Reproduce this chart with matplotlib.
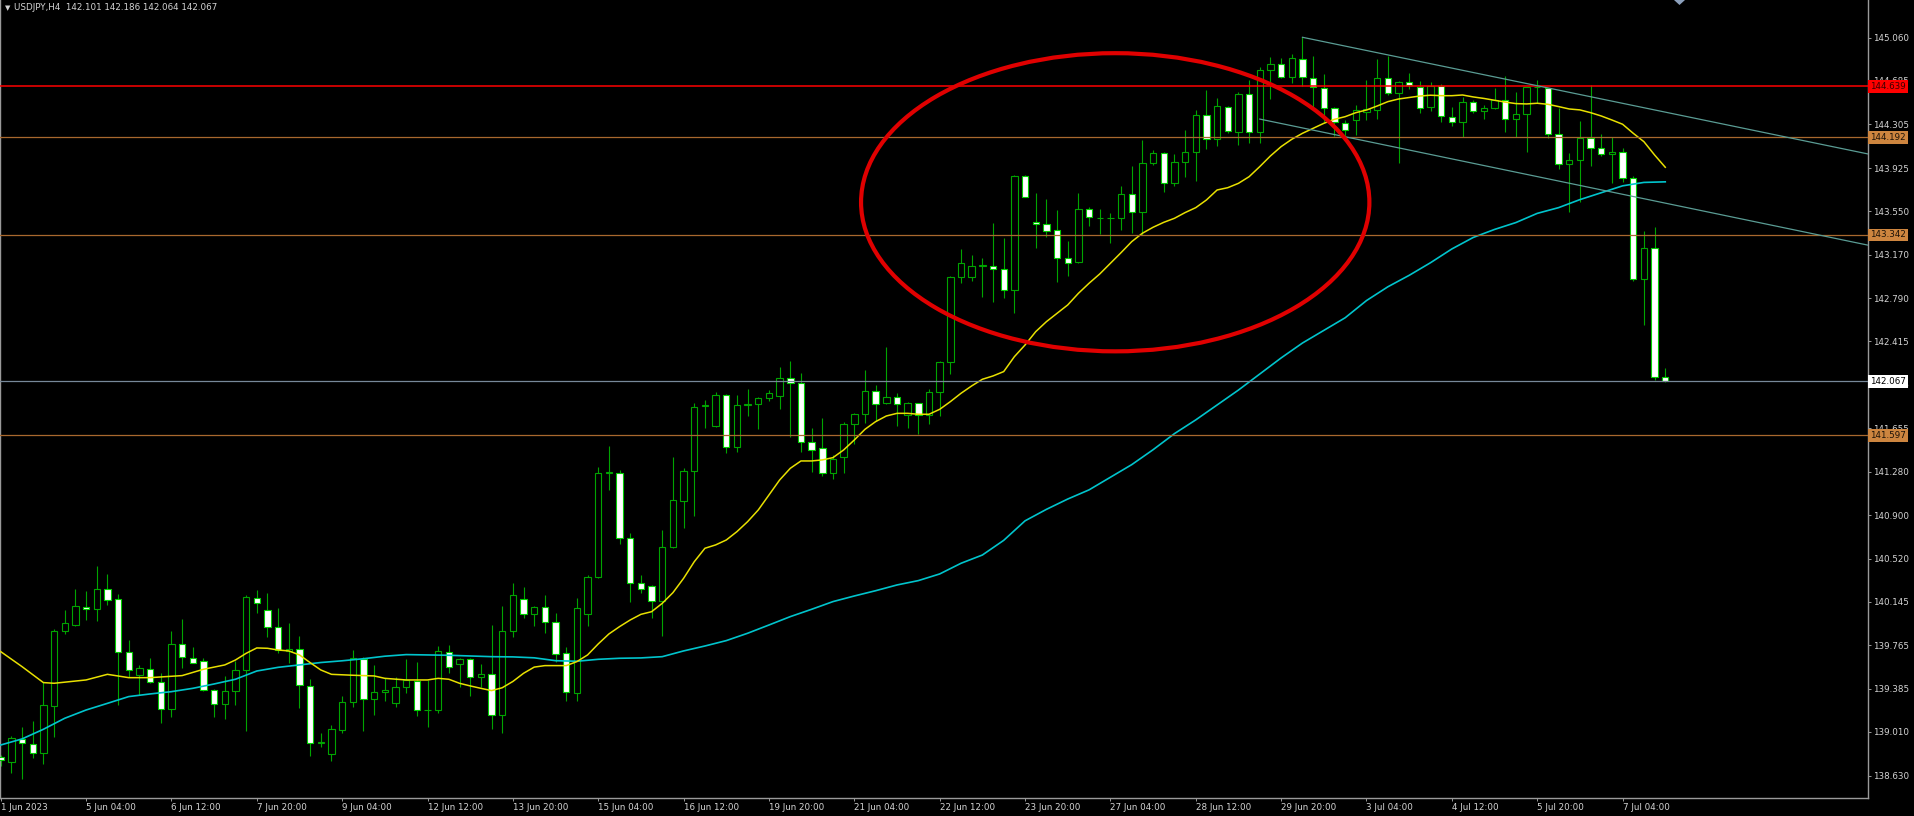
import matplotlib
matplotlib.use('Agg')
import matplotlib.pyplot as plt
import matplotlib.transforms as mtransforms
from matplotlib.patches import Ellipse, Polygon
import numpy as np

# USDJPY H4, 1 Jun 20:00 -> 7 Jul 20:00 (157 bars)
opens = [
    138.789, 138.751, 138.949, 138.908, 138.829, 139.239, 139.893, 139.939, 140.102, 140.079,
    140.259, 140.166, 139.707, 139.507, 139.562, 139.443, 139.207, 139.774, 139.658, 139.631,
    139.376, 139.254, 139.364, 139.550, 140.175, 140.070, 139.925, 139.719, 139.733, 139.414,
    138.917, 138.818, 139.024, 139.268, 139.649, 139.294, 139.355, 139.259, 139.405, 139.457,
    139.198, 139.201, 139.710, 139.602, 139.643, 139.486, 139.512, 139.155, 139.893, 140.169,
    140.035, 140.099, 139.971, 139.696, 139.347, 140.035, 140.358, 141.264, 141.264, 140.698,
    140.311, 140.282, 140.154, 140.625, 141.026, 141.288, 141.851, 141.677, 141.947, 141.491,
    141.863, 141.869, 141.924, 141.936, 142.092, 142.055, 141.535, 141.482, 141.270, 141.404,
    141.694, 141.779, 141.985, 141.880, 141.927, 141.773, 141.874, 141.773, 141.970, 142.238,
    142.979, 142.979, 143.072, 143.075, 143.048, 142.862, 143.856, 143.455, 143.441, 143.385,
    143.138, 143.107, 143.571, 143.487, 143.487, 143.490, 143.699, 143.542, 143.967, 144.060,
    143.792, 143.975, 144.062, 144.391, 144.179, 144.461, 144.243, 144.571, 144.243, 144.780,
    144.832, 144.716, 144.873, 144.708, 144.620, 144.446, 144.315, 144.344, 144.417, 144.431,
    144.708, 144.583, 144.673, 144.635, 144.455, 144.641, 144.373, 144.324, 144.504, 144.423,
    144.446, 144.519, 144.350, 144.397, 144.629, 144.620, 144.222, 143.961, 143.996, 144.190,
    144.103, 144.048, 144.068, 143.836, 142.955, 143.226, 142.101,
]
highs = [
    138.809, 138.975, 139.050, 139.105, 139.445, 139.905, 140.070, 140.259, 140.236, 140.454,
    140.387, 140.210, 139.812, 139.594, 139.652, 139.521, 139.893, 139.992, 139.754, 139.652,
    139.382, 139.498, 139.631, 140.207, 140.247, 140.224, 140.091, 139.963, 139.846, 139.474,
    139.004, 139.071, 139.323, 139.724, 139.666, 139.594, 139.477, 139.486, 139.643, 139.623,
    139.463, 139.759, 139.765, 139.652, 139.652, 139.602, 139.939, 140.111, 140.306, 140.276,
    140.108, 140.201, 140.050, 139.753, 140.175, 140.378, 141.323, 141.503, 141.293, 140.747,
    140.378, 140.291, 140.770, 141.404, 141.314, 141.874, 141.904, 141.976, 141.953, 141.944,
    141.997, 141.933, 141.991, 142.194, 142.246, 142.136, 141.657, 141.744, 141.424, 141.715,
    141.793, 142.165, 142.034, 142.363, 141.962, 141.889, 141.880, 141.997, 142.246, 142.984,
    143.217, 143.168, 143.139, 143.444, 143.313, 143.862, 143.862, 143.711, 143.653, 143.560,
    143.292, 143.705, 143.589, 143.566, 143.531, 143.772, 143.943, 144.170, 144.083, 144.068,
    144.045, 144.257, 144.432, 144.606, 144.533, 144.466, 144.591, 144.693, 144.809, 144.891,
    144.882, 144.920, 145.065, 144.902, 144.745, 144.455, 144.344, 144.475, 144.693, 144.873,
    144.902, 144.687, 144.751, 144.687, 144.678, 144.658, 144.461, 144.542, 144.519, 144.475,
    144.626, 144.728, 144.591, 144.635, 144.693, 144.626, 144.446, 144.054, 144.336, 144.649,
    144.222, 144.193, 144.097, 143.856, 143.377, 143.414, 142.186,
]
lows = [
    138.713, 138.655, 138.597, 138.786, 138.728, 138.969, 139.861, 139.934, 139.986, 139.980,
    140.120, 139.245, 139.486, 139.332, 139.434, 139.091, 139.143, 139.565, 139.608, 139.370,
    139.143, 139.120, 139.245, 139.018, 140.050, 139.841, 139.701, 139.614, 139.216, 138.800,
    138.876, 138.757, 138.998, 139.230, 139.021, 139.158, 139.283, 139.230, 139.352, 139.149,
    139.056, 139.178, 139.527, 139.405, 139.323, 139.405, 139.033, 139.004, 139.841, 140.000,
    139.934, 139.875, 139.623, 139.280, 139.282, 139.934, 140.352, 141.119, 140.648, 140.146,
    140.224, 140.000, 139.846, 140.611, 140.785, 140.895, 141.657, 141.665, 141.439, 141.453,
    141.764, 141.648, 141.898, 141.822, 141.578, 141.453, 141.279, 141.241, 141.212, 141.270,
    141.520, 141.700, 141.723, 141.869, 141.677, 141.657, 141.607, 141.694, 141.764, 142.130,
    142.921, 142.944, 142.804, 142.761, 142.790, 142.659, 143.670, 143.226, 143.327, 142.935,
    142.984, 143.095, 143.420, 143.351, 143.275, 143.385, 143.362, 143.342, 143.952, 143.720,
    143.769, 143.850, 143.815, 144.089, 144.118, 144.234, 144.126, 144.147, 144.141, 144.524,
    144.708, 144.664, 144.641, 144.431, 144.330, 144.205, 144.199, 144.214, 144.344, 144.350,
    144.562, 143.972, 144.612, 144.408, 144.426, 144.330, 144.292, 144.193, 144.402, 144.350,
    144.440, 144.243, 144.193, 144.068, 144.490, 144.184, 143.914, 143.545, 143.627, 143.946,
    144.030, 143.792, 143.807, 142.944, 142.557, 142.078, 142.064,
]
closes = [
    138.766, 138.954, 138.911, 138.824, 139.248, 139.893, 139.963, 140.108, 140.079, 140.259,
    140.160, 139.707, 139.550, 139.565, 139.445, 139.207, 139.777, 139.661, 139.614, 139.376,
    139.254, 139.364, 139.550, 140.184, 140.131, 139.928, 139.724, 139.730, 139.416, 138.911,
    138.922, 139.033, 139.268, 139.652, 139.294, 139.355, 139.376, 139.405, 139.460, 139.201,
    139.204, 139.719, 139.579, 139.643, 139.492, 139.512, 139.155, 139.893, 140.207, 140.035,
    140.102, 139.971, 139.689, 139.356, 140.088, 140.364, 141.264, 141.276, 140.698, 140.311,
    140.253, 140.154, 140.619, 141.032, 141.288, 141.845, 141.857, 141.950, 141.491, 141.863,
    141.869, 141.924, 141.962, 142.092, 142.055, 141.540, 141.468, 141.264, 141.386, 141.694,
    141.779, 141.985, 141.869, 141.933, 141.866, 141.880, 141.773, 141.970, 142.232, 142.979,
    143.101, 143.075, 143.077, 143.048, 142.862, 143.856, 143.676, 143.438, 143.380, 143.138,
    143.101, 143.571, 143.502, 143.493, 143.493, 143.699, 143.542, 143.967, 144.060, 143.792,
    143.981, 144.062, 144.391, 144.179, 144.466, 144.251, 144.571, 144.243, 144.780, 144.832,
    144.716, 144.882, 144.716, 144.629, 144.446, 144.330, 144.257, 144.431, 144.437, 144.708,
    144.583, 144.678, 144.647, 144.446, 144.641, 144.382, 144.324, 144.504, 144.426, 144.446,
    144.519, 144.350, 144.394, 144.629, 144.635, 144.222, 143.961, 143.996, 144.190, 144.103,
    144.048, 144.068, 143.836, 142.955, 143.226, 142.101, 142.067,
]

# moving averages (bar index, price)
fast_ma_bars = [0, 2, 4, 5, 8, 10, 12, 14, 17, 19, 21, 22, 23, 24, 25, 26, 27, 28, 29, 30,
                31, 33, 35, 36, 38, 40, 41, 42, 43, 44, 45, 46, 47, 48, 49, 50, 51, 53, 54, 55,
                56, 57, 58, 59, 60, 61, 62, 63, 64, 65, 66, 67, 68, 69, 70, 71, 72, 73, 74, 75,
                76, 77, 78, 79, 80, 81, 82, 83, 84, 85, 86, 87, 88, 89, 90, 91, 92, 93, 94, 95,
                96, 97, 98, 99, 100, 101, 102, 103, 104, 105, 106, 107, 108, 109, 110, 111, 112,
                113, 114, 115, 116, 117, 118, 119, 120, 121, 122, 123, 124, 125, 126, 127, 128,
                129, 130, 131, 132, 133, 134, 135, 136, 137, 138, 139, 140, 141, 142, 143, 144,
                145, 146, 147, 148, 149, 150, 151, 152, 153, 154, 155, 156]
fast_ma_vals = [139.710, 139.579, 139.440, 139.434, 139.463, 139.512, 139.483, 139.483, 139.501,
                139.556, 139.594, 139.637, 139.695, 139.742, 139.739, 139.724, 139.716, 139.681,
                139.614, 139.550, 139.512, 139.504, 139.498, 139.477, 139.463, 139.463, 139.477,
                139.469, 139.434, 139.411, 139.390, 139.370, 139.395, 139.450, 139.521, 139.575,
                139.588, 139.588, 139.623, 139.681, 139.777, 139.864, 139.928, 139.986, 140.035,
                140.058, 140.131, 140.224, 140.349, 140.494, 140.611, 140.640, 140.683, 140.756,
                140.843, 140.945, 141.075, 141.206, 141.308, 141.372, 141.372, 141.381, 141.401,
                141.468, 141.555, 141.648, 141.715, 141.764, 141.787, 141.787, 141.779, 141.779,
                141.822, 141.889, 141.962, 142.026, 142.084, 142.113, 142.151, 142.281, 142.383,
                142.499, 142.586, 142.659, 142.732, 142.833, 142.921, 143.002, 143.095, 143.188,
                143.284, 143.357, 143.409, 143.452, 143.487, 143.537, 143.580, 143.647, 143.734,
                143.754, 143.792, 143.850, 143.938, 144.031, 144.112, 144.176, 144.228, 144.272,
                144.315, 144.350, 144.373, 144.408, 144.431, 144.466, 144.504, 144.527, 144.540,
                144.553, 144.560, 144.556, 144.556, 144.562, 144.545, 144.532, 144.516, 144.500,
                144.487, 144.484, 144.490, 144.481, 144.461, 144.440, 144.432, 144.408, 144.379,
                144.344, 144.307, 144.228, 144.155, 144.039, 143.932]

slow_ma_bars = [0, 2, 4, 6, 8, 10, 12, 14, 16, 18, 20, 22, 24, 26, 28, 30, 32, 34, 36, 38,
                40, 42, 44, 46, 48, 50, 52, 54, 56, 58, 60, 62, 64, 66, 68, 70, 72, 74, 76, 78,
                80, 82, 84, 86, 88, 90, 92, 94, 96, 98, 100, 102, 104, 106, 108, 110, 112, 114,
                116, 118, 120, 122, 124, 126, 128, 130, 132, 134, 136, 138, 140, 142, 144, 146,
                148, 150, 152, 154, 156]
slow_ma_vals = [138.896, 138.949, 139.033, 139.129, 139.201, 139.259, 139.318, 139.341, 139.361,
                139.390, 139.428, 139.469, 139.541, 139.573, 139.594, 139.615, 139.630, 139.648,
                139.670, 139.684, 139.681, 139.678, 139.672, 139.666, 139.664, 139.656, 139.631,
                139.626, 139.643, 139.652, 139.655, 139.666, 139.716, 139.759, 139.806, 139.870,
                139.942, 140.015, 140.079, 140.146, 140.195, 140.241, 140.291, 140.329, 140.387,
                140.480, 140.552, 140.680, 140.850, 140.950, 141.040, 141.120, 141.230, 141.340,
                141.470, 141.610, 141.730, 141.860, 141.990, 142.130, 142.270, 142.400, 142.510,
                142.620, 142.770, 142.890, 142.990, 143.100, 143.220, 143.320, 143.390, 143.450,
                143.530, 143.580, 143.650, 143.710, 143.770, 143.800, 143.805]

# drawn objects
red_level = 144.639
orange_levels = [144.192, 143.342, 141.597]
bid_level = 142.067
upper_channel = [(122, 145.065), (175, 144.048)]
lower_channel = [(118, 144.352), (175, 143.253)]
circle_center = (104.45, 143.627)
circle_size = (47.64, 2.599)

price_ticks = [145.060, 144.685, 144.305, 143.925, 143.550, 143.170, 142.790, 142.415, 142.035,
               141.655, 141.280, 140.900, 140.520, 140.145, 139.765, 139.385, 139.010, 138.630]
date_labels = ['1 Jun 2023', '5 Jun 04:00', '6 Jun 12:00', '7 Jun 20:00', '9 Jun 04:00',
               '12 Jun 12:00', '13 Jun 20:00', '15 Jun 04:00', '16 Jun 12:00', '19 Jun 20:00',
               '21 Jun 04:00', '22 Jun 12:00', '23 Jun 20:00', '27 Jun 04:00', '28 Jun 12:00',
               '29 Jun 20:00', '3 Jul 04:00', '4 Jul 12:00', '5 Jul 20:00', '7 Jul 04:00']
date_bars = list(range(0, 8 * len(date_labels), 8))
header = 'USDJPY,H4  142.101 142.186 142.064 142.067'

fg = '#d4d4d4'
grid_col = '#9a9a9a'
fs = 6.3


def main():
    W, H = 1915, 816
    fig = plt.figure(figsize=(W / 100, H / 100), dpi=100, facecolor='black')
    ax = fig.add_axes([0, 18 / H, 1868 / W, 798 / H], facecolor='black')

    x = np.arange(len(opens))
    o = np.array(opens)
    c = np.array(closes)
    up = c >= o

    # wicks then bodies
    ax.vlines(x, lows, highs, color='#00a400', lw=0.8, zorder=2)
    body_w = 0.6
    ax.bar(x[up], (c - o)[up], bottom=o[up], width=body_w, color='black',
           edgecolor='#00a400', lw=0.8, zorder=3)
    ax.bar(x[~up], (o - c)[~up], bottom=c[~up], width=body_w, color='white',
           edgecolor='#00d000', lw=0.8, zorder=3)

    # indicators
    ax.plot(slow_ma_bars, slow_ma_vals, color='#00c4cc', lw=1.2, zorder=5)
    ax.plot(fast_ma_bars, fast_ma_vals, color='#e8e000', lw=1.1, zorder=5)

    # horizontal levels
    ax.axhline(red_level, color='#ff0000', lw=1.1, zorder=6)
    for lv in orange_levels:
        ax.axhline(lv, color='#a8682e', lw=0.9, zorder=6)
    ax.axhline(bid_level, color='#778899', lw=0.9, zorder=6)

    # channel
    for seg in (upper_channel, lower_channel):
        ax.plot([seg[0][0], seg[1][0]], [seg[0][1], seg[1][1]], color='#5a9c94', lw=0.9, zorder=6)

    ax.add_patch(Ellipse(circle_center, circle_size[0], circle_size[1], fill=False,
                         edgecolor='#e00000', lw=3.0, zorder=7))

    ax.set_xlim(-0.066, 175.0)
    ax.set_ylim(138.434, 145.390)

    for s in ['top']:
        ax.spines[s].set_visible(False)
    for s in ['left', 'right', 'bottom']:
        ax.spines[s].set_color(grid_col)
        ax.spines[s].set_linewidth(1.0)

    ax.yaxis.tick_right()
    ax.set_yticks(price_ticks)
    ax.set_yticklabels(['%.3f' % v for v in price_ticks])
    ax.tick_params(axis='y', direction='out', length=2.5, width=0.7, colors=grid_col,
                   labelcolor=fg, labelsize=fs, pad=1.2)
    ax.set_xticks(date_bars)
    ax.set_xticklabels(date_labels)
    ax.tick_params(axis='x', direction='out', length=2.5, width=0.7, colors=grid_col,
                   labelcolor=fg, labelsize=fs, pad=0.8)
    for lbl in ax.get_xticklabels():
        lbl.set_ha('left')

    # price boxes on the scale
    trans = mtransforms.blended_transform_factory(ax.transAxes, ax.transData)
    boxes = [(red_level, '#ff0000', '#3a0000')]
    boxes += [(lv, '#cd853f', '#1c1208') for lv in orange_levels]
    boxes += [(bid_level, 'white', 'black')]
    for lv, bg, tc in boxes:
        ax.text(1.0012, lv, '%.3f' % lv, transform=trans, ha='left', va='center',
                fontsize=fs, color=tc, clip_on=False, zorder=20,
                bbox=dict(boxstyle='square,pad=0.22', fc=bg, ec='none'))

    # header
    fig.text(5 / W, 1 - 8 / H, '\u25bc', fontsize=5, color=fg, va='center', ha='left')
    fig.text(14 / W, 1 - 8 / H, header, fontsize=fs, color=fg, va='center', ha='left')

    # chart shift marker
    fig.patches.append(Polygon([(1674 / W, 1.0), (1685 / W, 1.0), (1679.5 / W, 1 - 5 / H)],
                               closed=True, transform=fig.transFigure, fc='#8ca0bc', ec='none'))

    fig.savefig('out.png', dpi=100, facecolor='black')


if __name__ == '__main__':
    main()
